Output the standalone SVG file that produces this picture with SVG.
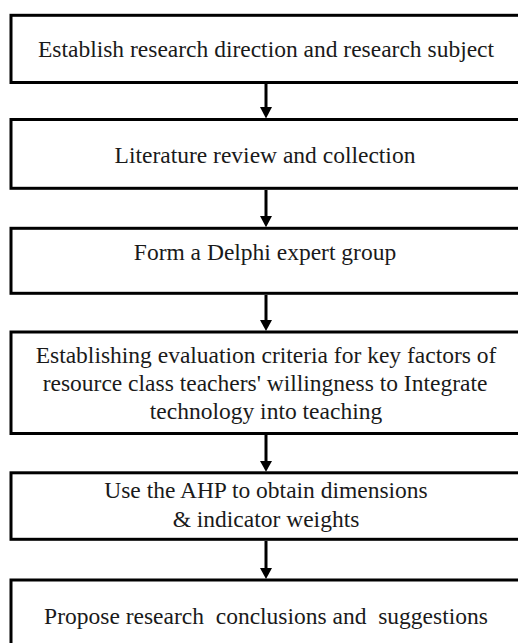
<svg xmlns="http://www.w3.org/2000/svg" width="518" height="643" viewBox="0 0 518 643">
<style>
.box{fill:#fff;stroke:#000;stroke-width:3}
.t{font-family:"Liberation Serif","Times New Roman",serif;font-size:23.5px;fill:#1a1a1a;text-anchor:middle;white-space:pre}
.c{stroke:#000;stroke-width:3;fill:none}
.h{fill:#000}
</style>
<rect width="518" height="643" fill="#fff"/>
<g id="n1"><rect class="box" x="11" y="15.3" width="511" height="67.2"/><text class="t" x="266" y="57">Establish research direction and research subject</text></g>
<g id="n2"><rect class="box" x="11" y="119.5" width="511" height="68.8"/><text class="t" x="265" y="163">Literature review and collection</text></g>
<g id="n3"><rect class="box" x="11" y="228.3" width="511" height="65"/><text class="t" x="265" y="260">Form a Delphi expert group</text></g>
<g id="n4"><rect class="box" x="11" y="332" width="511" height="101.5"/><text class="t" x="266" y="363">Establishing evaluation criteria for key factors of</text><text class="t" x="265" y="391">resource class teachers' willingness to Integrate</text><text class="t" x="266" y="419">technology into teaching</text></g>
<g id="n5"><rect class="box" x="11" y="472.8" width="511" height="66.5"/><text class="t" x="266" y="498">Use the AHP to obtain dimensions</text><text class="t" x="266" y="526.5">&amp; indicator weights</text></g>
<g id="n6"><rect class="box" x="11" y="580" width="511" height="80"/><text class="t" x="266" y="624" xml:space="preserve">Propose research  conclusions and  suggestions</text></g>
<g id="connectors">
<line class="c" x1="266" y1="84" x2="266" y2="108"/><polygon class="h" points="260,107 272,107 266,118.5"/>
<line class="c" x1="266" y1="190" x2="266" y2="217"/><polygon class="h" points="260,216 272,216 266,227.3"/>
<line class="c" x1="266" y1="295" x2="266" y2="321"/><polygon class="h" points="260,320 272,320 266,331"/>
<line class="c" x1="266" y1="435" x2="266" y2="462"/><polygon class="h" points="260,461 272,461 266,471.8"/>
<line class="c" x1="266" y1="541" x2="266" y2="569"/><polygon class="h" points="260,568 272,568 266,579"/>
</g>
</svg>
